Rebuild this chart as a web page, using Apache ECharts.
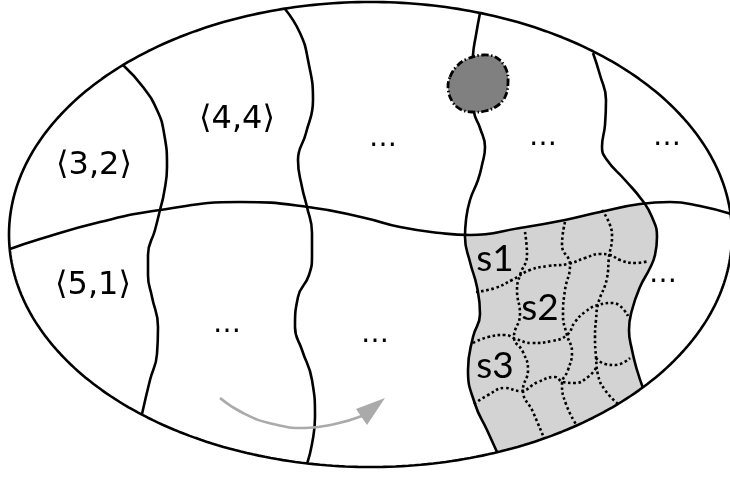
<!DOCTYPE html>
<html><head><meta charset="utf-8">
<script src="https://cdn.jsdelivr.net/npm/echarts@6/dist/echarts.min.js"></script>
<style>html,body{margin:0;padding:0;background:#fff}#c{width:730px;height:477px}</style>
</head><body><div id="c"></div>
<script>
// ---- geometry data (pixel space of the diagram) ----
const ellipseCenter = [370.5, 234.5];
const ellipseRadii = [361.5, 232.5];
const dividerPts = [[10,249],[40,239],[100,222],[160,210],[240,202],[308,207],[365,218],[400,227],[440,233],[470,235],[520,228],[565,220],[600,212],[640,204],[670,202],[700,206],[731,214]];
const curveA = [[123,65],[143,87],[157,110],[164,133],[167,167],[164,193],[160,210],[155,230],[148,255],[148,275],[152,297],[158,327],[157,354],[150,380],[142,414]];
const curveB = [[285,9],[300,33],[308,60],[313,100],[306,133],[298,160],[302,187],[307,207],[312,233],[312,255],[309,275],[298,297],[295,327],[302,350],[312,380],[315,417],[312,444],[307,464]];
const curveC = [[480,13],[476,35],[473,55],[472,83],[474,112],[480,128],[485,147],[482,165],[478,180],[470,200],[466,220],[465,237],[470,262],[477,287],[480,314],[473,337],[468,370],[475,404],[487,430],[497,452]];
const curveD = [[593,53],[600,75],[606,100],[605,125],[602,147],[607,160],[625,180],[642,200],[652,217],[657,237],[655,255],[650,268],[640,287],[632,310],[629,330],[632,350],[637,370],[643,388]];
const dotV1 = [[525,232],[527,255],[520,275],[517,290],[520,314],[514,337],[523,352],[528,370],[523,390],[533,412],[544,438]];
const dotV2 = [[565,222],[562,245],[570,265],[565,290],[563,315],[567,335],[572,352],[568,370],[562,384],[566,404],[577,426]];
const dotV3 = [[602,210],[610,225],[612,237],[609,257],[607,278],[598,304],[596,320],[595,337],[596,357],[598,375],[605,390],[618,404]];
const dotH1 = [[476,292],[495,288],[512,280],[530,270],[548,266],[568,264],[585,258],[600,254],[610,255],[620,260],[635,263],[649,261]];
const dotH2 = [[473,343],[488,337],[505,335],[516,339],[532,343],[552,341],[567,335],[575,322],[585,312],[598,305],[613,303],[628,316]];
const dotH3 = [[474,404],[488,395],[505,388],[520,391],[538,382],[555,377],[563,382],[575,383],[588,377],[596,368]];
const dotH4 = [[596,358],[605,364],[615,365],[630,358]];
const blobPts = [[450,77],[457,66],[467,59],[483,55],[497,58],[506,69],[508,83],[505,97],[497,106],[485,111],[472,112],[460,109],[452,101],[448,88]];
const arrowPts = [[220,398],[243,413],[273,424],[305,428],[335,424],[362,416]];
const arrowHead = [[385,398],[356,409],[367,425]];
const pairTexts = ['⟨3,2⟩','⟨4,4⟩','⟨5,1⟩'];
const pairPos = [[94,166],[237,120],[93,286]];
const cellTexts = ['s1','s2','s3'];
const cellPos = [[495,259],[540,308],[495,366]];
const dotsPos = [[383,148],[543,147],[667,147],[227,334],[375,344],[663,284]];

// ellipse outline sampled from center/radii
function ellipsePoint(t){return [ellipseCenter[0]+ellipseRadii[0]*Math.cos(t), ellipseCenter[1]+ellipseRadii[1]*Math.sin(t)];}
const ellipsePts = [];
for(let i=0;i<=360;i++){ellipsePts.push(ellipsePoint(i/360*2*Math.PI));}
// bottom arc of shaded region between curveD end and curveC end
function angleAtX(x){return Math.acos((x-ellipseCenter[0])/ellipseRadii[0]);}
const tD = angleAtX(curveD[curveD.length-1][0]), tC = angleAtX(curveC[curveC.length-1][0]);
const shadeBottom = [];
for(let i=0;i<=20;i++){shadeBottom.push(ellipsePoint(tD+(tC-tD)*i/20));}
const shadePoly = [].concat(
  dividerPts.filter(p=>p[0]>466 && p[0]<646),
  curveD.filter(p=>p[1]>204),
  shadeBottom,
  curveC.filter(p=>p[1]>=236).reverse()
);

const chart = echarts.init(document.getElementById('c'), null, {renderer:'canvas'});
function lineS(data, opts){
  return Object.assign({type:'line', data:data, symbol:'none', smooth:0.5, z:3, silent:true,
    lineStyle:{color:'#000', width:2.6}}, opts||{});
}
function polyS(pts, style, z, smooth){
  return {type:'custom', coordinateSystem:'cartesian2d', data:[[0,0]], z:z, silent:true,
    renderItem:function(params, api){
      return {type:'polygon', shape:{points:pts.map(p=>api.coord(p)), smooth:smooth||0}, style:style};
    }};
}
function textS(pos, texts, font, dy){
  return {type:'custom', coordinateSystem:'cartesian2d', data:pos, z:8, silent:true,
    renderItem:function(params, api){
      const c = api.coord(pos[params.dataIndex]);
      const t = typeof texts === 'string' ? texts : texts[params.dataIndex];
      return {type:'text', x:c[0], y:c[1]+dy, style:{text:t, font:font, fill:'#000', align:'center', verticalAlign:'middle'}};
    }};
}
const dotted = {color:'#000', width:2.6, type:[2.6,2.6], cap:'butt'};
chart.setOption({
  animation:false,
  grid:{left:0,right:0,top:0,bottom:0},
  xAxis:{type:'value', min:0, max:730, show:false},
  yAxis:{type:'value', min:0, max:477, inverse:true, show:false},
  series:[
    polyS(shadePoly, {fill:'#d3d3d3'}, 1, 0.3),
    lineS(ellipsePts, {smooth:false}),
    lineS(dividerPts),
    lineS(curveA),
    lineS(curveB),
    lineS(curveC),
    lineS(curveD),
    lineS(dotV1, {lineStyle:dotted}),
    lineS(dotV2, {lineStyle:dotted}),
    lineS(dotV3, {lineStyle:dotted}),
    lineS(dotH1, {lineStyle:dotted}),
    lineS(dotH2, {lineStyle:dotted}),
    lineS(dotH3, {lineStyle:dotted}),
    lineS(dotH4, {lineStyle:dotted}),
    polyS(blobPts, {fill:'#808080', stroke:'#000', lineWidth:2.8, lineDash:[7,2.5,1.5,2.5]}, 6, 0.4),
    lineS(arrowPts, {lineStyle:{color:'#aaaaaa', width:2.6}}),
    polyS(arrowHead, {fill:'#aaaaaa'}, 4, 0),
    textS(pairPos, pairTexts, '32px "DejaVu Sans", sans-serif', 0),
    textS(cellPos, cellTexts, '37px Lato, "DejaVu Sans", sans-serif', 0),
    textS(dotsPos, '…', '28px "DejaVu Sans", sans-serif', -9)
  ]
});
</script></body></html>
